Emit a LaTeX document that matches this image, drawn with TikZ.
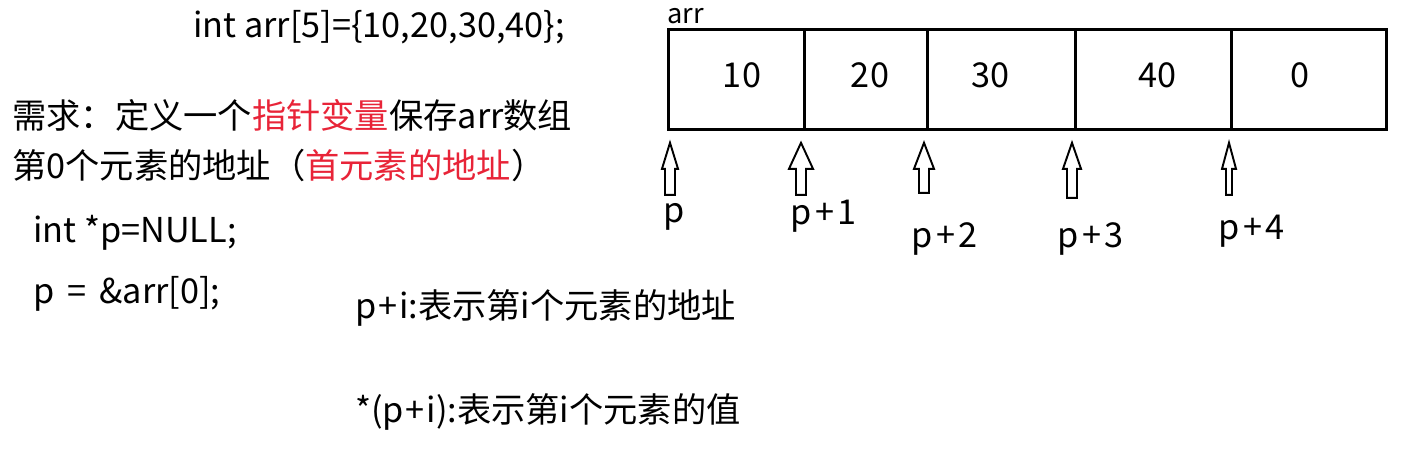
\documentclass[tikz,border=0pt]{standalone}
\usepackage{fontspec}
\setmainfont{Noto Sans CJK SC}
\usepackage{tikz}
\usepackage{xcolor}
\definecolor{hlred}{RGB}{232,36,56}

\begin{document}
\begin{tikzpicture}[x=0.02cm, y=-0.02cm,
  txt/.style={anchor=base west, inner sep=0pt, font=\fontsize{19.5}{24}\selectfont},
  cell/.style={draw, line width=1.6pt, minimum height=2cm, inner sep=0pt, anchor=north west},
  val/.style={inner sep=0pt, font=\fontsize{19.5}{24}\selectfont}]
  \useasboundingbox (0,0) rectangle (1402,463);
  % code and notes on the left
  \node[txt] (decl) at (193,37) {int arr[5]=\{10,20,30,40\};};
  \node[txt] (need1) at (12,128) {需求：定义一个\textcolor{hlred}{指针变量}保存arr数组};
  \node[txt] (need2) at (12,178) {第0个元素的地址（\textcolor{hlred}{首元素的地址}）};
  \node[txt] (defp) at (33,242) {int *p=NULL;};
  \node[txt] (setp) at (33,303) {p\hspace{3pt} = \hspace{3pt}\&arr[0];};
  \node[txt] (addr) at (355,318) {p\kern1pt+\kern1pt i:表示第i个元素的地址};
  \node[txt] (deref) at (355,422) {*(p\kern1pt+\kern1pt i):表示第i个元素的值};
  % the array
  \node[txt, font=\fontsize{15.5}{19}\selectfont] (name) at (667,23) {arr};
  \node[cell, minimum width=2.72cm] (c0) at (667,28) {};
  \node[cell, minimum width=2.46cm] (c1) at (803,28) {};
  \node[cell, minimum width=2.96cm] (c2) at (926,28) {};
  \node[cell, minimum width=3.12cm] (c3) at (1074,28) {};
  \node[cell, minimum width=3.10cm] (c4) at (1230,28) {};
  \node[val] (v0) at (742,75) {10}; \node[val] (v1) at (870,75) {20}; \node[val] (v2) at (990,75) {30};
  \node[val] (v3) at (1157,75) {40}; \node[val] (v4) at (1300,75) {0};
  % pointers
  \node[txt] (lp0) at (663,222) {p};
  \node[txt] (lp1) at (790,224) {p\kern2pt+\kern2pt1};
  \node[txt] (lp2) at (911,247) {p\kern2pt+\kern2pt2};
  \node[txt] (lp3) at (1057,247) {p\kern2pt+\kern2pt3};
  \node[txt] (lp4) at (1218,239) {p\kern2pt+\kern2pt4};
  \foreach \i/\dx/\h/\s/\l in {0/3/8/5/26, 1/-2/12/5/26, 2/-2/10/5/24, 3/-2/9/5/29, 4/-1/7/3/26}
    \draw[line width=1.1pt, line join=miter] (c\i.south west) ++(\dx,12) -- ++(\h,26) -- ++({\s-\h},0) -- ++(0,\l)
      -- ++({-2*\s},0) -- ++(0,-\l) -- ++({\s-\h},0) -- cycle;
\end{tikzpicture}
\end{document}
